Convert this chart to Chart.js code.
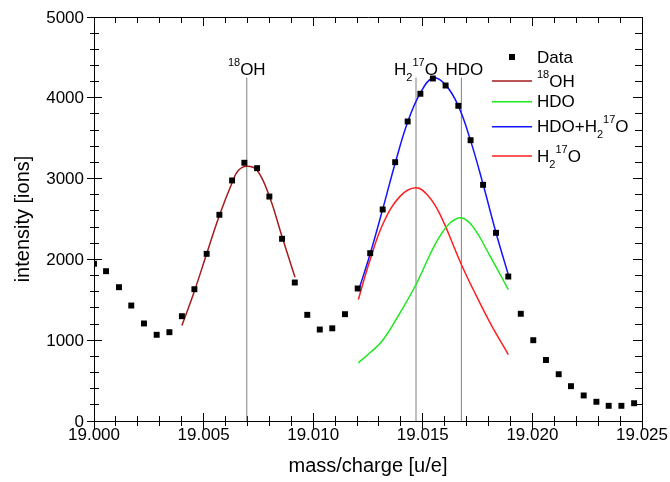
<!DOCTYPE html>
<html>
<head>
<meta charset="utf-8">
<script src="https://cdn.jsdelivr.net/npm/chart.js@4/dist/chart.umd.min.js"></script>
<style>
  html, body { margin: 0; padding: 0; background: #fff; }
  #wrap { position: relative; width: 670px; height: 482px; }
  canvas { display: block; }
  #overlay { position: absolute; left: 0; top: 0; pointer-events: none; }
</style>
</head>
<body>
<div id="wrap">
  <canvas id="massChart" width="670" height="482"></canvas>
  <canvas id="overlay" width="670" height="482"></canvas>
</div>
<script>
// ===== DATA =====
const dataX = [19.00000, 19.00055, 19.00114, 19.00170, 19.00228, 19.00286, 19.00344, 19.00401, 19.00458, 19.00514,
  19.00572, 19.00630, 19.00686, 19.00744, 19.00800, 19.00858, 19.00916, 19.00973, 19.01030, 19.01087,
  19.01145, 19.01203, 19.01260, 19.01317, 19.01374, 19.01431, 19.01489, 19.01546, 19.01604, 19.01662,
  19.01718, 19.01775, 19.01834, 19.01890, 19.01947, 19.02004, 19.02062, 19.02120, 19.02176, 19.02234,
  19.02292, 19.02348, 19.02406, 19.02464];
const dataY = [1946, 1854, 1656, 1429, 1207, 1067, 1099, 1297, 1631, 2069,
  2552, 2977, 3196, 3129, 2778, 2255, 1714, 1314, 1132, 1147,
  1322, 1640, 2077, 2618, 3203, 3707, 4050, 4239, 4152, 3901,
  3475, 2923, 2329, 1788, 1327, 1000, 755, 579, 431, 316,
  238, 188, 188, 220];

// fitted curves
const ohX = [19.00401, 19.00458, 19.00514, 19.00572, 19.00630, 19.00658, 19.00697, 19.00744, 19.00800, 19.00858, 19.00917];
const ohY = [1182, 1607, 2069, 2543, 2948, 3100, 3154, 3104, 2782, 2280, 1780];

const hdoX = [19.01206, 19.01259, 19.01320, 19.01396, 19.01469, 19.01533, 19.01578, 19.01624, 19.01676, 19.01730, 19.01807, 19.01890];
const hdoY = [720, 844, 1009, 1339, 1689, 2061, 2287, 2450, 2515, 2400, 2040, 1627];

const sumX = [19.01206, 19.01260, 19.01317, 19.01374, 19.01431, 19.01489, 19.01546, 19.01604, 19.01662, 19.01718, 19.01775, 19.01834, 19.01890];
const sumY = [1607, 2070, 2620, 3190, 3700, 4060, 4245, 4160, 3900, 3470, 2930, 2330, 1810];

const h2oX = [19.01206, 19.01259, 19.01320, 19.01396, 19.01469, 19.01523, 19.01578, 19.01676, 19.01730, 19.01807, 19.01890];
const h2oY = [1504, 1990, 2450, 2780, 2886, 2790, 2560, 1937, 1627, 1215, 823];

// peak markers
const markerX = [19.00697, 19.01469, 19.01676];
const markerTop = 4250;

// axes
const xTicks = [19.000, 19.005, 19.010, 19.015, 19.020, 19.025];
const yTicks = [0, 1000, 2000, 3000, 4000, 5000];
const minorPerMajor = 5;

const FONT = '"Liberation Sans", Arial, sans-serif';
const pts = (xs, ys) => xs.map((x, i) => ({ x: x, y: ys[i] }));

// majors plus minor subdivisions
function subdivide(majors) {
  const out = [];
  const step = (majors[1] - majors[0]) / minorPerMajor;
  majors.forEach((v, i) => {
    for (let j = 0; j < minorPerMajor; j++) {
      if (i === majors.length - 1 && j > 0) break;
      out.push(v + j * step);
    }
  });
  return out;
}
const allX = subdivide(xTicks);
const allY = subdivide(yTicks);

// ===== rich text with sub/superscripts =====
// parts: [text, kind] where kind is 'n', 'sub' or 'sup'
function richText(ctx, parts, x, y, align) {
  const fontFor = k => (k === 'n' ? '17px ' : '11px ') + FONT;
  let w = 0;
  parts.forEach(p => { ctx.font = fontFor(p[1]); w += ctx.measureText(p[0]).width; });
  let cx = align === 'center' ? x - w / 2 : x;
  parts.forEach(p => {
    ctx.font = fontFor(p[1]);
    const dy = p[1] === 'sub' ? 6 : p[1] === 'sup' ? -9 : 0;
    ctx.fillText(p[0], cx, y + dy);
    cx += ctx.measureText(p[0]).width;
  });
}

const OH18 = [['18', 'sup'], ['OH', 'n']];
const H2O17 = [['H', 'n'], ['2', 'sub'], ['17', 'sup'], ['O', 'n']];
const HDO = [['HDO', 'n']];
const HDO_H2O = [['HDO+H', 'n'], ['2', 'sub'], ['17', 'sup'], ['O', 'n']];

// ===== tick labels, peak labels, legend (overlay canvas) =====
const overlayPlugin = {
  id: 'overlayText',
  afterDraw(chart) {
    const ctx = document.getElementById('overlay').getContext('2d');
    const x = chart.scales.x, y = chart.scales.y;
    ctx.clearRect(0, 0, 670, 482);
    const L = x.getPixelForValue(xTicks[0]);
    const B = y.getPixelForValue(yTicks[0]);
    ctx.fillStyle = '#000';

    ctx.font = '17px ' + FONT;
    ctx.textAlign = 'center';
    ctx.textBaseline = 'top';
    xTicks.forEach(v => ctx.fillText(v.toFixed(3), x.getPixelForValue(v), B + 6));
    ctx.textAlign = 'right';
    ctx.textBaseline = 'middle';
    yTicks.forEach(v => ctx.fillText(String(v), L - 10, y.getPixelForValue(v) + 1));

    ctx.textBaseline = 'alphabetic';
    ctx.textAlign = 'left';
    const labelY = 75;
    richText(ctx, OH18, x.getPixelForValue(markerX[0]), labelY, 'center');
    richText(ctx, H2O17, x.getPixelForValue(markerX[1]), labelY, 'center');
    richText(ctx, HDO, x.getPixelForValue(markerX[2]) + 3, labelY, 'center');

    const lx = 492, tx = 537;
    ctx.fillRect(509, 54, 6, 6);
    richText(ctx, [['Data', 'n']], tx, 62.7, 'left');
    const rows = [
      [OH18, '#a51c1c', 81, 86.7],
      [HDO, '#1ee81e', 101.7, 107.4],
      [HDO_H2O, '#1414ff', 126.7, 132.4],
      [H2O17, '#ff2020', 156, 161.7]
    ];
    rows.forEach(r => {
      ctx.strokeStyle = r[1];
      ctx.lineWidth = 1.5;
      ctx.beginPath(); ctx.moveTo(lx, r[2]); ctx.lineTo(lx + 40, r[2]); ctx.stroke();
      richText(ctx, r[0], tx, r[3], 'left');
    });
  }
};

// ===== AXES: frame and tick marks drawn by Chart.js itself =====
const BORDER = { display: true, color: '#000', width: 1 };
function tickAxis(pos, values, len, extra) {
  const horiz = pos === 'top' || pos === 'bottom';
  const lim = horiz ? xTicks : yTicks;
  return Object.assign({
    type: 'linear', position: pos, min: lim[0], max: lim[lim.length - 1], weight: 0,
    afterBuildTicks: s => { s.ticks = values.map(v => ({ value: v })); },
    afterFit: s => { if (horiz) s.height = 0; else s.width = 0; },
    grid: { display: true, drawOnChartArea: false, drawTicks: true, tickLength: len, tickColor: '#000', tickWidth: 1 },
    border: { display: false },
    ticks: { display: false }
  }, extra || {});
}

// ===== CHART =====
const curve = (label, xs, ys, color) => ({
  label: label, data: pts(xs, ys), showLine: true, borderColor: color, borderWidth: 1.5,
  pointRadius: 0, tension: 0.4, fill: false, order: 1
});

const vlines = markerX.map(mx => ({
  label: 'marker', data: [{ x: mx, y: 0 }, { x: mx, y: markerTop }], showLine: true,
  borderColor: '#808080', borderWidth: 1, pointRadius: 0, order: 2
}));

new Chart(document.getElementById('massChart'), {
  type: 'scatter',
  data: {
    datasets: [
      { label: 'Data', data: pts(dataX, dataY), pointStyle: 'rect', pointRadius: 4.2,
        backgroundColor: '#000', borderWidth: 0, order: 0 },
      curve('18OH', ohX, ohY, '#a51c1c'),
      curve('HDO', hdoX, hdoY, '#1ee81e'),
      curve('HDO+H2 17O', sumX, sumY, '#1414ff'),
      curve('H2 17O', h2oX, h2oY, '#ff2020'),
      ...vlines
    ]
  },
  options: {
    responsive: false,
    animation: false,
    events: [],
    layout: { padding: { top: 17, right: 28, left: 0, bottom: 0 } },
    plugins: { legend: { display: false }, tooltip: { enabled: false } },
    scales: {
      x: tickAxis('bottom', allX, 5, {
        weight: 1,
        afterFit: s => { s.height = 61; },
        border: BORDER,
        title: { display: true, text: 'mass/charge [u/e]', color: '#000', font: { size: 20, family: FONT },
          padding: { top: 0, bottom: 4 } }
      }),
      xMaj: tickAxis('bottom', xTicks, 8),
      xIn: tickAxis('bottom', allX, -5),
      xMajIn: tickAxis('bottom', xTicks, -8),
      xTop: tickAxis('top', allX, -6, { border: BORDER }),
      xTopMaj: tickAxis('top', xTicks, -9),
      y: tickAxis('left', allY, 4, {
        weight: 1,
        afterFit: s => { s.width = 94; },
        border: BORDER,
        title: { display: true, text: 'intensity [ions]', color: '#000', font: { size: 20, family: FONT },
          padding: { top: 11, bottom: 0 } }
      }),
      yMaj: tickAxis('left', yTicks, 7),
      yIn: tickAxis('left', allY, -5),
      yMajIn: tickAxis('left', yTicks, -8),
      yRight: tickAxis('right', allY, -7, { border: BORDER }),
      yRightMaj: tickAxis('right', yTicks, -9)
    }
  },
  plugins: [overlayPlugin]
});
</script>
</body>
</html>
